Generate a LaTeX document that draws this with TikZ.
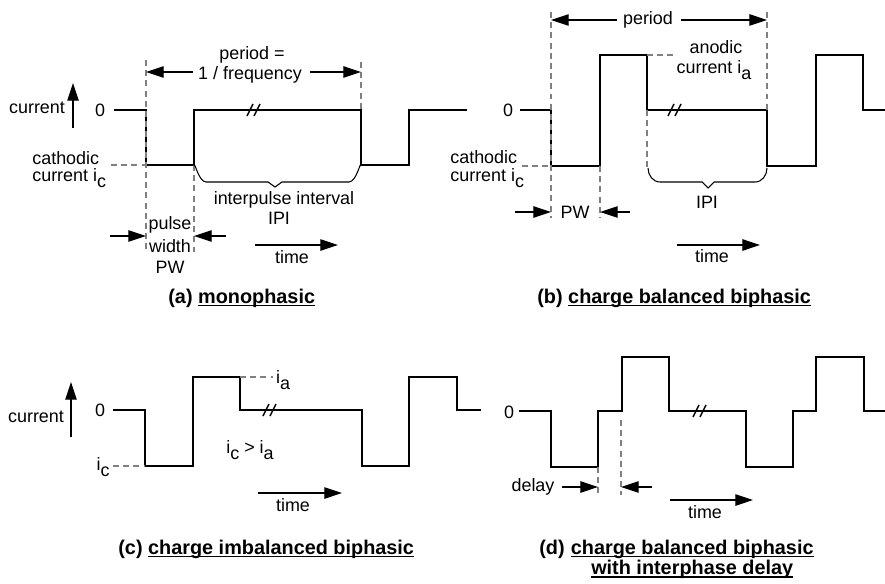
\documentclass[tikz,border=0pt]{standalone}
\usepackage{fontspec}
\setmainfont{Liberation Sans}
\usetikzlibrary{arrows.meta,positioning}
\newlength{\capulw}
\newcommand{\capul}[1]{\settowidth{\capulw}{#1}\rlap{\rule[-1.9pt]{\capulw}{0.9pt}}#1}
\newcommand{\lowidx}[1]{\raisebox{-0.55ex}{#1}}
\tikzset{
  wave/.style={line width=0.8pt, draw=black, line join=miter},
  guide/.style={line width=0.6pt, draw=black!50, dash pattern=on 3.4pt off 2.4pt},
  dimarrow/.style={line width=0.6pt, draw=black, -{Triangle[length=10pt,width=6.5pt]}},
  brace/.style={line width=0.6pt, draw=black},
  lbl/.style={inner sep=0pt, font=\fontsize{10.2}{12}\selectfont},
  captext/.style={inner sep=0pt, anchor=base west, font=\bfseries\fontsize{11.3}{13.5}\selectfont},
  brk/.pic={\draw[wave] (-7,6) -- (-1,-6); \draw[wave] (0,6) -- (6,-6);},
}

\begin{document}
\begin{tikzpicture}[x=0.02cm, y=-0.02cm]
\useasboundingbox (0,0) rectangle (885,584);

% (a) monophasic
\draw[wave] (114,110) -- (146,110) -- (146,165) -- (194,165) -- (194,110) -- (361,110)
  -- (361,165) -- (409,165) -- (409,110) -- (467,110);
\pic at (254,110) {brk};
\draw[guide] (111,165) -- (146,165);
\draw[guide] (146,60) -- (146,252);
\draw[guide] (194,165) -- (194,252);
\draw[guide] (361,62) -- (361,110);
\draw[brace] (194,166) to[out=90,in=180] (206,182) -- (268,182) -- (275,187) -- (282,182)
  -- (349,182) to[out=0,in=90] (361,166);
\coordinate (acurbot) at (73,128);
\coordinate (acurtop) at (73,83);
\coordinate (aperl) at (146,72);
\coordinate (aperr) at (361,72);
\coordinate (apwl) at (146,236);
\coordinate (apwr) at (194,236);
\node[lbl] (acur) at (37,108) {current};
\node[lbl] (azero) at (100,110) {0};
\node[lbl, anchor=west] (acath) at (32,158) {cathodic};
\node[lbl, anchor=west] (acathi) at (32,178) {current i\lowidx{c}};
\node[lbl] (aper) at (252,55) {period =};
\node[lbl] (afreq) at (250,75) {1 / frequency};
\node[lbl] (aipi) at (284,200) {interpulse interval};
\node[lbl] (aipib) at (279,218) {IPI};
\node[lbl] (apulse) at (170,225) {pulse};
\node[lbl] (awidth) at (170,246) {width};
\node[lbl] (apw) at (170,267) {PW};
\node[lbl] (atime) at (292,257) {time};
\draw[dimarrow] (acurbot) -- (acurtop);
\draw[dimarrow] (afreq.west |- aperl) ++(-5,0) -- (aperl);
\draw[dimarrow] (afreq.east |- aperr) ++(8,0) -- (aperr);
\draw[dimarrow] (apwl) ++(-36,0) -- (apwl);
\draw[dimarrow] (apwr) ++(32,0) -- (apwr);
\draw[dimarrow] (255,245) coordinate (atimel) -- (338,245) coordinate (atimer);
\node[captext] (capa) at (168,303) {(a) \capul{monophasic}};

% (b) charge balanced biphasic
\draw[wave] (520,110) -- (551,110) -- (551,166) -- (600,166) -- (600,55) -- (647,55)
  -- (647,110) -- (767,110) -- (767,166) -- (816,166) -- (816,55) -- (863,55)
  -- (863,110) -- (885,110);
\pic at (675,110) {brk};
\draw[guide] (522,166) -- (551,166);
\draw[guide] (647,55) -- (677,55);
\draw[guide] (551,12) -- (551,218);
\draw[guide] (600,166) -- (600,218);
\draw[guide] (647,110) -- (647,168);
\draw[guide] (767,12) -- (767,110);
\draw[brace] (648,168) to[out=-90,in=180] (660,182) -- (702,182) -- (708,188) -- (714,182)
  -- (755,182) to[out=0,in=-90] (767,168);
\coordinate (bperl) at (551,20);
\coordinate (bperr) at (767,20);
\coordinate (bpwl) at (551,212);
\coordinate (bpwr) at (600,212);
\node[lbl] (bzero) at (508,110) {0};
\node[lbl, anchor=west] (bcath) at (450,157) {cathodic};
\node[lbl, anchor=west] (bcathi) at (450,178) {current i\lowidx{c}};
\node[lbl] (bper) at (648,20) {period};
\node[lbl] (banod) at (716,47) {anodic};
\node[lbl] (banodi) at (714,70) {current i\lowidx{a}};
\node[lbl] (bipi) at (707,202) {IPI};
\node[lbl] (bpw) at (575,212) {PW};
\node[lbl] (btime) at (712,256) {time};
\draw[dimarrow] (bper.west |- bperl) ++(-6,0) -- (bperl);
\draw[dimarrow] (bper.east |- bperr) ++(8,0) -- (bperr);
\draw[dimarrow] (bpwl) ++(-36,0) -- (bpwl);
\draw[dimarrow] (bpwr) ++(30,0) -- (bpwr);
\draw[dimarrow] (677,245) coordinate (btimel) -- (760,245) coordinate (btimer);
\node[captext] (capb) at (537,303) {(b) \capul{charge balanced biphasic}};

% (c) charge imbalanced biphasic
\draw[wave] (113,410) -- (145,410) -- (145,466) -- (193,466) -- (193,377) -- (240,377)
  -- (240,410) -- (362,410) -- (362,466) -- (409,466) -- (409,377) -- (457,377)
  -- (457,410) -- (481,410);
\pic at (270,410) {brk};
\draw[guide] (113,466) -- (145,466);
\draw[guide] (240,377) -- (273,377);
\node[lbl] (ccur) at (36,417) {current};
\node[lbl] (czero) at (100,410) {0};
\node[lbl] (cic) at (103,467) {i\lowidx{c}};
\node[lbl] (cia) at (283,380) {i\lowidx{a}};
\node[lbl] (cineq) at (250,450) {i\lowidx{c} > i\lowidx{a}};
\node[lbl] (ctime) at (293,505) {time};
\draw[dimarrow] (71,437) coordinate (ccurbot) -- (71,382) coordinate (ccurtop);
\draw[dimarrow] (258,493) coordinate (ctimel) -- (342,493) coordinate (ctimer);
\node[captext] (capc) at (118,554) {(c) \capul{charge imbalanced biphasic}};

% (d) charge balanced biphasic with interphase delay
\draw[wave] (519,411) -- (551,411) -- (551,467) -- (598,467) -- (598,411) -- (622,411)
  -- (622,357) -- (669,357) -- (669,411) -- (746,411) -- (746,467) -- (793,467)
  -- (793,411) -- (816,411) -- (816,357) -- (864,357) -- (864,411) -- (885,411);
\pic at (700,411) {brk};
\draw[guide] (598,467) -- (598,495);
\draw[guide] (621,420) -- (621,495);
\coordinate (ddell) at (598,487);
\coordinate (ddelr) at (621,487);
\node[lbl] (dzero) at (509,412) {0};
\node[lbl] (ddelay) at (533,487) {delay};
\node[lbl] (dtime) at (705,512) {time};
\draw[dimarrow] (ddell) ++(-36,0) -- (ddell);
\draw[dimarrow] (ddelr) ++(31,0) -- (ddelr);
\draw[dimarrow] (670,500) coordinate (dtimel) -- (753,500) coordinate (dtimer);
\node[captext] (capdtag) at (539,554) {(d)};
\node[captext] (capd) at ([xshift=3.1pt]capdtag.base east) {\capul{charge balanced biphasic}};
\node[captext, anchor=base] (capdb) at ([yshift=-11.5pt]capd.base) {\capul{with interphase delay}};
\end{tikzpicture}
\end{document}
